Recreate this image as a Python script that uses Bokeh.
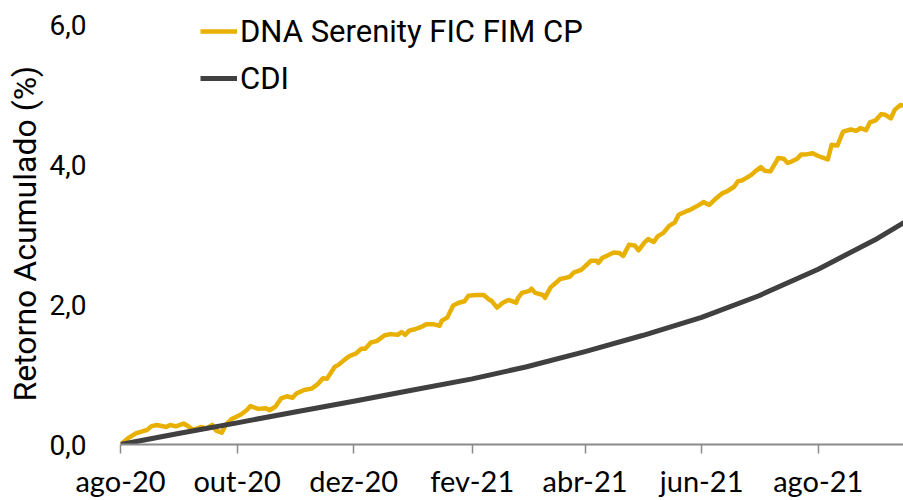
from bokeh.plotting import figure
from bokeh.models import Range1d, FixedTicker, Legend, LegendItem, Title
from bokeh.embed import file_html
from bokeh.resources import INLINE

# ---- data (days since 2020-08-01, cumulative return in %) ----
dna_days = [0, 4, 8, 14, 16, 19, 24, 26, 29, 33, 36, 38, 42, 45, 48, 50, 53, 55, 58, 63,
            66, 68, 72, 76, 78, 81, 84, 87, 90, 92, 96, 100, 103, 106, 108, 112, 114, 118,
            120, 123, 126, 128, 131, 134, 138, 141, 145, 147, 149, 151, 154, 157, 160, 164,
            167, 168, 171, 174, 177, 180, 182, 186, 190, 193, 194, 197, 200, 203, 204, 207,
            208, 210, 214, 215, 217, 221, 222, 224, 225, 230, 235, 237, 241, 243, 246, 249,
            250, 252, 255, 258, 261, 263, 266, 269, 271, 274, 276, 279, 281, 284, 287, 290,
            292, 296, 298, 302, 305, 308, 311, 315, 317, 321, 323, 325, 327, 330, 332, 335,
            337, 340, 343, 344, 347, 349, 351, 354, 356, 358, 362, 365, 367, 370, 372, 375,
            378, 382, 385, 387, 390, 392, 395, 398, 400, 403, 405, 408, 410]
dna_vals = [0.00, 0.09, 0.16, 0.21, 0.26, 0.28, 0.25, 0.28, 0.26, 0.30, 0.25, 0.21, 0.25, 0.23,
            0.28, 0.20, 0.17, 0.28, 0.36, 0.43, 0.49, 0.55, 0.51, 0.52, 0.49, 0.54, 0.66, 0.69,
            0.67, 0.73, 0.78, 0.80, 0.86, 0.95, 0.94, 1.11, 1.14, 1.23, 1.27, 1.30, 1.37, 1.37,
            1.46, 1.48, 1.56, 1.58, 1.57, 1.61, 1.57, 1.63, 1.65, 1.68, 1.72, 1.72, 1.70, 1.77,
            1.82, 1.99, 2.03, 2.05, 2.13, 2.14, 2.14, 2.07, 2.06, 1.96, 2.03, 2.07, 2.06, 2.03,
            2.10, 2.17, 2.20, 2.23, 2.17, 2.14, 2.10, 2.20, 2.25, 2.37, 2.40, 2.46, 2.50, 2.55,
            2.63, 2.63, 2.60, 2.67, 2.71, 2.75, 2.74, 2.70, 2.86, 2.85, 2.78, 2.89, 2.94, 2.90,
            2.98, 3.03, 3.13, 3.18, 3.29, 3.34, 3.36, 3.42, 3.47, 3.43, 3.51, 3.60, 3.62, 3.69,
            3.77, 3.78, 3.81, 3.86, 3.91, 3.97, 3.92, 3.91, 4.05, 4.10, 4.09, 4.03, 4.05, 4.09,
            4.15, 4.15, 4.17, 4.13, 4.11, 4.08, 4.29, 4.28, 4.48, 4.51, 4.49, 4.53, 4.50, 4.61,
            4.64, 4.73, 4.72, 4.67, 4.79, 4.86, 4.85]

cdi_days = [0, 31, 61, 92, 122, 153, 184, 212, 243, 273, 304, 334, 365, 396, 410]
cdi_vals = [0.00, 0.16, 0.31, 0.47, 0.62, 0.78, 0.94, 1.11, 1.33, 1.56, 1.82, 2.13, 2.51, 2.95, 3.18]

tick_days = [0, 61, 122, 184, 243, 304, 365]
tick_labels = ["ago-20", "out-20", "dez-20", "fev-21", "abr-21", "jun-21", "ago-21"]
y_ticks = [0, 2, 4, 6]
y_labels = ["0,0", "2,0", "4,0", "6,0"]

series_names = ["DNA Serenity FIC FIM CP", "CDI"]
colors = ["#E8B000", "#404040"]

p = figure(width=903, height=500, output_backend="svg", toolbar_location=None,
           x_range=Range1d(0, 409.6), y_range=Range1d(0, 6.299),
           min_border_left=120, min_border_right=0, min_border_top=4, min_border_bottom=54)
p.outline_line_color = None
p.xgrid.visible = False
p.ygrid.visible = False
p.background_fill_color = "white"
p.border_fill_color = "white"

r1 = p.line(dna_days, dna_vals, line_color=colors[0], line_width=4.5, line_join="round")
r2 = p.line(cdi_days, cdi_vals, line_color=colors[1], line_width=5, line_join="round")

# x axis
xa = p.xaxis[0]
xa.ticker = FixedTicker(ticks=tick_days)
xa.major_label_overrides = {d: l for d, l in zip(tick_days, tick_labels)}
xa.minor_tick_line_color = None
xa.major_tick_in = 0
xa.major_tick_out = 9
xa.axis_line_color = "#8A8A8A"
xa.axis_line_width = 2
xa.major_tick_line_color = "#8A8A8A"
xa.major_tick_line_width = 1.5
xa.major_label_text_font = "Lato"
xa.major_label_text_font_size = "29px"
xa.major_label_text_color = "black"
xa.major_label_standoff = 9

# y axis
ya = p.yaxis[0]
ya.ticker = FixedTicker(ticks=y_ticks)
ya.major_label_overrides = {t: l for t, l in zip(y_ticks, y_labels)}
ya.axis_line_color = None
ya.major_tick_line_color = None
ya.minor_tick_line_color = None
ya.major_label_text_font = "Roboto"
ya.major_label_text_font_size = "28px"
ya.major_label_text_color = "black"
ya.major_label_standoff = 28

ytitle = Title(text="Retorno Acumulado (%)", align="left", offset=43,
               text_font="Roboto", text_font_size="32px", text_font_style="normal",
               text_color="black", standoff=6)
p.add_layout(ytitle, "left")

legend = Legend(items=[LegendItem(label=series_names[0], renderers=[r1]),
                       LegendItem(label=series_names[1], renderers=[r2])],
                location=(80, 346), orientation="vertical",
                padding=0, margin=0, spacing=7,
                glyph_width=37, glyph_height=40, label_height=40,
                label_standoff=3,
                label_text_font="Roboto", label_text_font_size="31px",
                label_text_color="black",
                border_line_alpha=0, background_fill_alpha=0)
p.add_layout(legend, "center")

open("out.html", "w").write(file_html(p, INLINE))
